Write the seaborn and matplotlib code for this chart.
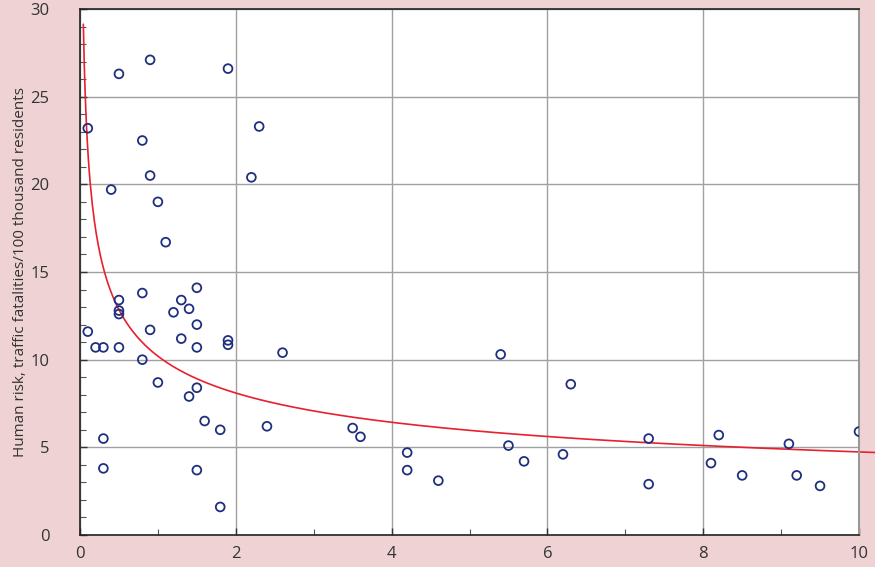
import numpy as np
import pandas as pd
import matplotlib
matplotlib.use("Agg")
import matplotlib.pyplot as plt
import seaborn as sns

# Data
x_vals = [0.1, 0.5, 0.9, 1.9, 2.3, 0.8, 0.9, 2.2, 0.4, 1.0,
          1.1, 0.1, 0.2, 0.3, 0.5, 0.5, 0.5, 0.5, 0.8, 0.9,
          0.8, 1.2, 1.3, 1.4, 1.5, 1.3, 1.5, 1.5, 1.9, 1.9,
          2.6, 1.0, 1.5, 1.4, 1.6, 1.8, 2.4, 0.3, 0.3, 1.5,
          1.8, 3.5, 3.6, 4.2, 4.2, 4.6, 5.4, 5.5, 5.7, 6.2,
          6.3, 7.3, 7.3, 8.1, 8.2, 8.5, 9.1, 9.2, 9.5, 10.0]
y_vals = [23.2, 26.3, 27.1, 26.6, 23.3, 22.5, 20.5, 20.4, 19.7, 19.0,
          16.7, 11.6, 10.7, 10.7, 10.7, 13.4, 12.8, 12.6, 13.8, 11.7,
          10.0, 12.7, 13.4, 12.9, 14.1, 11.2, 12.0, 10.7, 11.1, 10.85,
          10.4, 8.7, 8.4, 7.9, 6.5, 6.0, 6.2, 5.5, 3.8, 3.7,
          1.6, 6.1, 5.6, 4.7, 3.7, 3.1, 10.3, 5.1, 4.2, 4.6,
          8.6, 5.5, 2.9, 4.1, 5.7, 3.4, 5.2, 3.4, 2.8, 5.9]
fit_a = 10.2
fit_b = -0.333

x_ticks = [0, 2, 4, 6, 8, 10]
x_tick_labels = ["0", "2", "4", "6", "8", "10"]
y_ticks = [0, 5, 10, 15, 20, 25, 30]
y_tick_labels = ["0", "5", "10", "15", "20", "25", "30"]
y_label = "Human risk, traffic fatalities/100 thousand residents"

pink = "#EFD3D4"
sns.set_theme(style="white")
plt.rcParams["font.family"] = ["Open Sans", "DejaVu Sans"]

fig = plt.figure(figsize=(8.75, 5.67), dpi=100, facecolor=pink)
ax = fig.add_axes([80 / 875, 32 / 567, 779 / 875, 526 / 567])
ax.set_facecolor("white")

df = pd.DataFrame({"x": x_vals, "y": y_vals})
sns.scatterplot(data=df, x="x", y="y", ax=ax, marker="o", s=40,
                facecolors="none", edgecolor="#1F2F7F", linewidth=1.3,
                zorder=3)

xf = np.linspace(0.03, 10.25, 800)
fit_df = pd.DataFrame({"x": xf, "y": fit_a * xf ** fit_b})
sns.lineplot(data=fit_df, x="x", y="y", ax=ax, color="#E8202E",
             linewidth=1.2, zorder=2)
line = ax.lines[-1]
line.set_clip_on(False)
xd, yd = line.get_xdata(), line.get_ydata()
mask = yd <= 30.6
line.set_data(xd[mask], yd[mask])

ax.set_xlim(0, 10)
ax.set_ylim(0, 30)
ax.set_xticks(x_ticks)
ax.set_xticklabels(x_tick_labels)
ax.set_yticks(y_ticks)
ax.set_yticklabels(y_tick_labels)
ax.set_xticks(np.arange(1, 10, 2), minor=True)
ax.set_yticks(np.arange(0, 31, 1), minor=True)
ax.grid(True, which="major", color="#A0A0A0", linewidth=1.0)
ax.set_axisbelow(True)

ax.tick_params(axis="both", which="major", direction="in", length=5,
               width=1, color="#333333", labelsize=12, labelcolor="#333333")
ax.tick_params(axis="both", which="minor", direction="in", length=4,
               width=0.8, color="#555555")
ax.tick_params(axis="y", which="major", pad=22)
ax.tick_params(axis="x", which="major", pad=8)
ax.tick_params(left=True, bottom=True, which="both")

for side in ["left", "bottom", "top"]:
    ax.spines[side].set_color("#222222")
    ax.spines[side].set_linewidth(1.2)
ax.spines["right"].set_color("#999999")
ax.spines["right"].set_linewidth(1.5)

ax.set_xlabel("")
ax.set_ylabel(y_label, fontsize=11, color="#333333", labelpad=2)

fig.savefig("out.png", dpi=100, facecolor=pink)
